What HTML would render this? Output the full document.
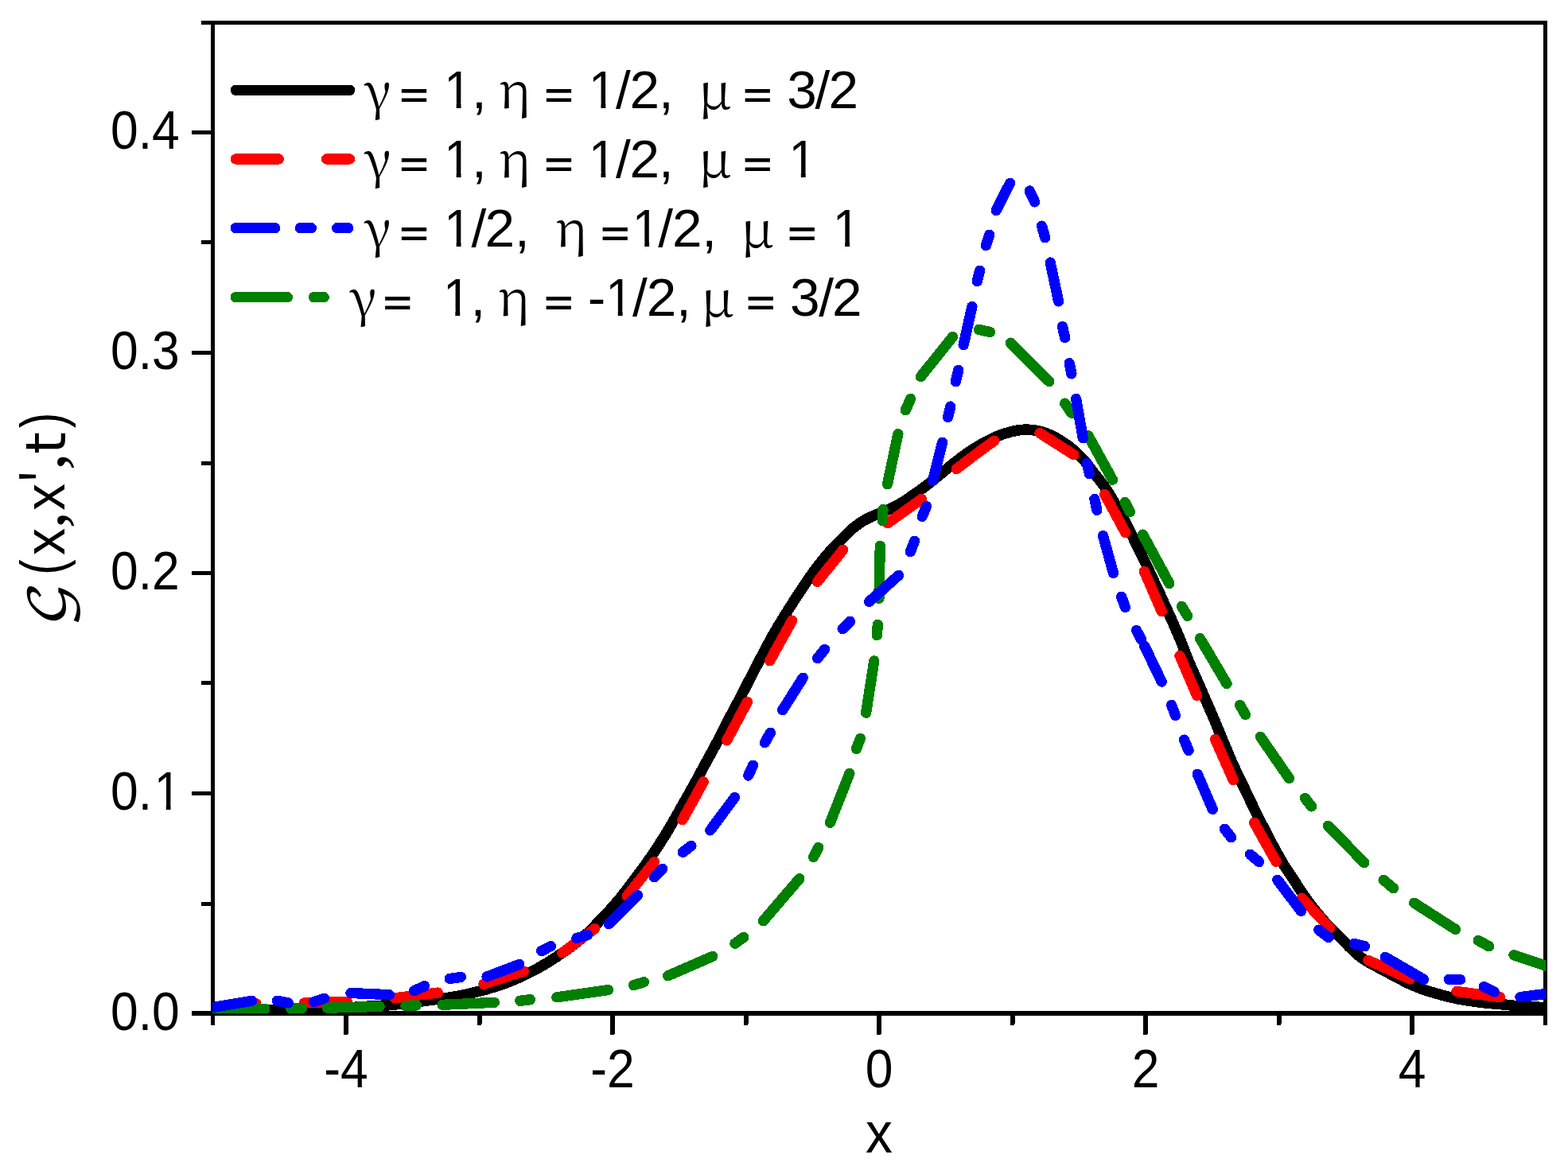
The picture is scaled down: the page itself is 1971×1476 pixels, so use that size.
<!DOCTYPE html>
<html lang="en"><head><meta charset="utf-8"><title>Green function G(x,x',t)</title>
<style>html,body{margin:0;padding:0;background:#fff}body{width:1971px;height:1476px;overflow:hidden}svg{display:block}text{font-family:"Liberation Sans",sans-serif;fill:#000}.gk{font-family:"Liberation Serif","DejaVu Serif",serif}.gd{font-family:"DejaVu Serif","Liberation Serif",serif}.gn{font-family:"Noto Serif CJK SC","Liberation Serif",serif}.sf{font-family:"Liberation Serif",serif}.dv{font-family:"DejaVu Sans","Liberation Sans",sans-serif}.b{font-weight:bold}.cal{font-family:"DejaVu Math TeX Gyre","DejaVu Serif","Liberation Serif",serif}</style></head><body>
<svg width="1971" height="1476" viewBox="0 0 1971 1476">
<rect width="1971" height="1476" fill="#fff"/>
<defs><clipPath id="plot"><rect x="267" y="28.5" width="1676" height="1245.5"/></clipPath></defs>
<g fill="#000" shape-rendering="crispEdges">
<rect x="253" y="26" width="1692" height="5" rx="1.5"/>
<rect x="265" y="26" width="5" height="1263" rx="1.5"/>
<rect x="1940" y="26" width="5" height="1263" rx="1.5"/>
<rect x="241" y="1271" width="1704" height="6" rx="1.5"/>
<rect x="432" y="1272" width="6" height="29" rx="2"/>
<rect x="599.5" y="1272" width="6" height="17" rx="2"/>
<rect x="767" y="1272" width="6" height="29" rx="2"/>
<rect x="934.5" y="1272" width="6" height="17" rx="2"/>
<rect x="1102" y="1272" width="6" height="29" rx="2"/>
<rect x="1269.5" y="1272" width="6" height="17" rx="2"/>
<rect x="1437" y="1272" width="6" height="29" rx="2"/>
<rect x="1604.5" y="1272" width="6" height="17" rx="2"/>
<rect x="1772" y="1272" width="6" height="29" rx="2"/>
<rect x="253" y="1134" width="14" height="5" rx="1.5"/>
<rect x="241" y="995" width="26" height="5" rx="1.5"/>
<rect x="253" y="856" width="14" height="5" rx="1.5"/>
<rect x="241" y="718" width="26" height="5" rx="1.5"/>
<rect x="253" y="580" width="14" height="5" rx="1.5"/>
<rect x="241" y="441" width="26" height="5" rx="1.5"/>
<rect x="253" y="302" width="14" height="5" rx="1.5"/>
<rect x="241" y="164" width="26" height="5" rx="1.5"/>
</g>
<g clip-path="url(#plot)" fill="none" stroke-linecap="round" stroke-linejoin="round" shape-rendering="crispEdges">
<path stroke="#000" stroke-width="13.6" d="M267.5 1271.5 L271.5 1271.4 L275.5 1271.4 L279.5 1271.3 L283.5 1271.2 L287.5 1271.1 L291.5 1271.1 L295.5 1271 L299.5 1270.9 L303.5 1270.9 L307.5 1270.8 L311.5 1270.7 L315.5 1270.6 L319.5 1270.6 L323.5 1270.5 L327.5 1270.4 L331.5 1270.4 L335.5 1270.3 L339.5 1270.2 L343.5 1270.1 L347.5 1270.1 L351.5 1270 L355.5 1269.9 L359.5 1269.8 L363.5 1269.7 L367.5 1269.6 L371.5 1269.5 L375.5 1269.4 L379.5 1269.3 L383.5 1269.2 L387.5 1269.1 L391.5 1269 L395.5 1268.9 L399.5 1268.7 L403.5 1268.6 L407.5 1268.4 L411.5 1268.2 L415.5 1268 L419.5 1267.8 L423.5 1267.6 L427.5 1267.4 L431.5 1267.2 L435.5 1266.9 L439.5 1266.7 L443.5 1266.5 L447.5 1266.2 L451.5 1266 L455.5 1265.7 L459.5 1265.4 L463.5 1265.2 L467.5 1264.9 L471.5 1264.7 L475.4 1264.5 L479.4 1264.3 L483.4 1264.1 L487.4 1263.8 L491.4 1263.4 L495.4 1263 L499.4 1262.6 L503.3 1262.1 L507.3 1261.7 L511.3 1261.2 L515.3 1260.7 L519.2 1260.3 L523.2 1259.8 L527.2 1259.3 L531.2 1258.7 L535.1 1258.2 L539.1 1257.7 L543.1 1257.2 L547 1256.6 L551 1256.1 L554.9 1255.5 L558.9 1255 L562.9 1254.4 L566.8 1253.8 L570.8 1253.1 L574.7 1252.5 L578.7 1251.7 L582.6 1251 L586.5 1250.1 L590.4 1249.2 L594.2 1248.2 L598.1 1247.2 L602 1246.3 L605.9 1245.3 L609.8 1244.2 L613.6 1243.2 L617.4 1242 L621.3 1240.9 L625.1 1239.7 L628.9 1238.4 L632.7 1237.1 L636.4 1235.7 L640.1 1234.2 L643.8 1232.7 L647.5 1231.2 L651.2 1229.6 L654.8 1228 L658.5 1226.3 L662.1 1224.6 L665.7 1222.8 L669.3 1221 L672.8 1219.1 L676.3 1217.2 L679.8 1215.2 L683.2 1213.2 L686.7 1211.2 L690.1 1209.1 L693.5 1206.9 L696.8 1204.8 L700.2 1202.6 L703.5 1200.3 L706.8 1198.1 L710.1 1195.8 L713.3 1193.5 L716.6 1191.1 L719.8 1188.7 L722.9 1186.3 L726.1 1183.8 L729.2 1181.3 L732.3 1178.8 L735.3 1176.2 L738.2 1173.4 L741.1 1170.7 L744 1167.8 L746.7 1165 L749.5 1162.1 L752.3 1159.2 L755 1156.3 L757.8 1153.4 L760.5 1150.5 L763.3 1147.6 L766 1144.7 L768.7 1141.7 L771.4 1138.7 L774 1135.7 L776.6 1132.7 L779.2 1129.6 L781.7 1126.5 L784.1 1123.3 L786.6 1120.1 L789 1116.9 L791.4 1113.7 L793.8 1110.5 L796.2 1107.3 L798.6 1104.1 L801 1100.9 L803.4 1097.8 L805.8 1094.6 L808.2 1091.4 L810.6 1088.1 L812.9 1084.9 L815.2 1081.6 L817.5 1078.3 L819.8 1075 L822 1071.7 L824.2 1068.4 L826.4 1065 L828.6 1061.7 L830.8 1058.3 L833 1055 L835.1 1051.6 L837.2 1048.2 L839.3 1044.7 L841.3 1041.3 L843.3 1037.9 L845.3 1034.4 L847.3 1030.9 L849.3 1027.4 L851.3 1024 L853.2 1020.5 L855.2 1017 L857.2 1013.5 L859.2 1010 L861.1 1006.6 L863.1 1003.1 L865.1 999.6 L867.1 996.1 L869 992.6 L870.9 989.1 L872.8 985.6 L874.8 982.1 L876.7 978.6 L878.6 975 L880.5 971.5 L882.4 968 L884.3 964.5 L886.2 961 L888.1 957.5 L890 953.9 L891.9 950.4 L893.9 946.9 L895.8 943.4 L897.7 939.9 L899.6 936.3 L901.5 932.8 L903.4 929.3 L905.2 925.8 L907.1 922.2 L908.9 918.7 L910.7 915.1 L912.5 911.5 L914.3 907.9 L916.1 904.4 L917.9 900.8 L919.8 897.2 L921.6 893.7 L923.5 890.2 L925.4 886.7 L927.3 883.1 L929.2 879.6 L931.1 876.1 L932.9 872.5 L934.7 868.9 L936.6 865.4 L938.4 861.8 L940.2 858.3 L942 854.7 L943.9 851.1 L945.7 847.6 L947.5 844 L949.4 840.5 L951.2 836.9 L953 833.4 L954.9 829.8 L956.7 826.3 L958.6 822.7 L960.5 819.2 L962.3 815.6 L964.2 812.1 L966.1 808.6 L968 805.1 L969.9 801.5 L971.9 798 L973.9 794.6 L975.9 791.1 L977.9 787.7 L980 784.3 L982.1 780.9 L984.2 777.4 L986.3 774 L988.4 770.6 L990.5 767.2 L992.7 763.9 L994.8 760.5 L997 757.1 L999.1 753.7 L1001.3 750.4 L1003.5 747 L1005.7 743.7 L1007.9 740.4 L1010.2 737.1 L1012.4 733.7 L1014.6 730.4 L1016.9 727.1 L1019.2 723.8 L1021.5 720.6 L1023.8 717.3 L1026.2 714.1 L1028.6 710.9 L1031.1 707.8 L1033.6 704.6 L1036.1 701.5 L1038.7 698.5 L1041.3 695.4 L1044 692.4 L1046.6 689.5 L1049.4 686.6 L1052.1 683.7 L1054.9 680.8 L1057.7 678 L1060.6 675.1 L1063.4 672.3 L1066.3 669.6 L1069.2 666.8 L1072.2 664.2 L1075.3 661.7 L1078.5 659.3 L1081.8 657 L1085.1 654.9 L1088.6 652.9 L1092.2 651.1 L1095.8 649.4 L1099.5 647.8 L1103.1 646.3 L1106.9 644.8 L1110.6 643.3 L1114.3 641.8 L1117.9 640.2 L1121.6 638.5 L1125.1 636.7 L1128.7 634.8 L1132.1 632.8 L1135.5 630.7 L1138.9 628.6 L1142.2 626.3 L1145.5 624 L1148.8 621.8 L1152.1 619.5 L1155.3 617.2 L1158.6 614.9 L1161.8 612.5 L1165 610 L1168.1 607.6 L1171.2 605 L1174.3 602.5 L1177.4 600 L1180.5 597.5 L1183.6 594.9 L1186.7 592.4 L1189.8 589.9 L1192.9 587.3 L1196 584.8 L1199.1 582.3 L1202.2 579.8 L1205.4 577.4 L1208.6 574.9 L1211.8 572.6 L1215.1 570.2 L1218.4 568 L1221.7 565.8 L1225.1 563.6 L1228.5 561.6 L1231.9 559.5 L1235.4 557.5 L1238.9 555.6 L1242.5 553.7 L1246 552 L1249.7 550.3 L1253.3 548.7 L1257 547.2 L1260.8 545.8 L1264.6 544.6 L1268.4 543.5 L1272.3 542.5 L1276.2 541.6 L1280.1 540.9 L1284 540.4 L1288 540.2 L1292 540.2 L1295.9 540.4 L1299.9 540.9 L1303.8 541.5 L1307.7 542.4 L1311.5 543.4 L1315.3 544.8 L1318.9 546.3 L1322.5 548 L1326.1 549.8 L1329.6 551.8 L1333 553.8 L1336.4 556 L1339.7 558.2 L1343 560.5 L1346.1 562.9 L1349.2 565.4 L1352.2 568 L1355.1 570.8 L1357.9 573.6 L1360.7 576.6 L1363.3 579.6 L1365.8 582.7 L1368.3 585.8 L1370.8 589 L1373.2 592.1 L1375.6 595.3 L1378.1 598.4 L1380.6 601.6 L1383.1 604.7 L1385.5 607.9 L1387.9 611.1 L1390.1 614.4 L1392.3 617.8 L1394.4 621.1 L1396.5 624.6 L1398.6 628 L1400.6 631.4 L1402.6 634.9 L1404.6 638.4 L1406.5 641.9 L1408.5 645.4 L1410.5 648.8 L1412.4 652.3 L1414.3 655.9 L1416.2 659.4 L1418 663 L1419.8 666.5 L1421.6 670.1 L1423.3 673.7 L1425 677.3 L1426.7 680.9 L1428.5 684.6 L1430.2 688.2 L1432 691.7 L1433.8 695.3 L1435.6 698.9 L1437.4 702.5 L1439.1 706.1 L1440.8 709.7 L1442.5 713.3 L1444.2 716.9 L1445.9 720.6 L1447.5 724.2 L1449.2 727.9 L1450.9 731.5 L1452.6 735.1 L1454.3 738.7 L1456 742.4 L1457.7 746 L1459.4 749.6 L1461 753.3 L1462.7 756.9 L1464.3 760.6 L1466 764.2 L1467.6 767.8 L1469.3 771.5 L1470.9 775.1 L1472.6 778.8 L1474.2 782.5 L1475.8 786.1 L1477.4 789.8 L1479 793.4 L1480.6 797.1 L1482.1 800.8 L1483.7 804.5 L1485.2 808.2 L1486.6 811.9 L1488.1 815.7 L1489.5 819.4 L1490.9 823.1 L1492.4 826.9 L1493.9 830.6 L1495.5 834.3 L1497.1 837.9 L1498.7 841.6 L1500.3 845.2 L1502 848.9 L1503.6 852.5 L1505.2 856.2 L1506.9 859.9 L1508.5 863.5 L1510 867.2 L1511.6 870.9 L1513.2 874.6 L1514.8 878.2 L1516.4 881.9 L1518 885.6 L1519.6 889.2 L1521.2 892.9 L1522.8 896.5 L1524.4 900.2 L1526 903.9 L1527.5 907.6 L1529 911.3 L1530.5 915 L1532.1 918.7 L1533.6 922.4 L1535.1 926.1 L1536.7 929.8 L1538.2 933.5 L1539.8 937.2 L1541.3 940.9 L1542.9 944.6 L1544.4 948.2 L1546 951.9 L1547.5 955.6 L1549.1 959.3 L1550.8 962.9 L1552.5 966.6 L1554.2 970.2 L1555.9 973.8 L1557.6 977.4 L1559.4 981 L1561.1 984.6 L1562.8 988.2 L1564.6 991.8 L1566.3 995.4 L1568.1 999 L1569.8 1002.6 L1571.5 1006.3 L1573.2 1009.9 L1574.9 1013.5 L1576.6 1017.1 L1578.3 1020.7 L1580.1 1024.3 L1581.9 1027.9 L1583.7 1031.4 L1585.6 1035 L1587.4 1038.5 L1589.3 1042.1 L1591.1 1045.6 L1593 1049.2 L1594.8 1052.7 L1596.7 1056.3 L1598.5 1059.8 L1600.4 1063.4 L1602.3 1066.9 L1604.2 1070.4 L1606.1 1073.9 L1608.1 1077.4 L1610.1 1080.9 L1612.1 1084.3 L1614.1 1087.8 L1616.2 1091.2 L1618.4 1094.5 L1620.6 1097.8 L1622.9 1101.2 L1625.1 1104.5 L1627.3 1107.8 L1629.5 1111.2 L1631.6 1114.6 L1633.8 1117.9 L1636 1121.2 L1638.3 1124.5 L1640.6 1127.8 L1642.9 1131.1 L1645.3 1134.3 L1647.6 1137.5 L1650.1 1140.7 L1652.6 1143.8 L1655.1 1146.9 L1657.6 1150 L1660.2 1153.1 L1662.8 1156.1 L1665.5 1159.1 L1668.2 1162 L1671 1164.9 L1673.8 1167.8 L1676.6 1170.7 L1679.4 1173.5 L1682.2 1176.4 L1685 1179.2 L1687.8 1182 L1690.6 1184.9 L1693.4 1187.7 L1696.2 1190.6 L1699.1 1193.4 L1702 1196.2 L1704.9 1198.8 L1708 1201.4 L1711.2 1203.8 L1714.4 1206.1 L1717.8 1208.2 L1721.2 1210.3 L1724.7 1212.2 L1728.2 1214.1 L1731.7 1216 L1735.3 1217.9 L1738.8 1219.8 L1742.3 1221.7 L1745.9 1223.6 L1749.4 1225.4 L1752.9 1227.3 L1756.5 1229.2 L1760 1231.1 L1763.5 1232.9 L1767.1 1234.8 L1770.7 1236.5 L1774.3 1238.2 L1778 1239.7 L1781.7 1241.2 L1785.4 1242.7 L1789.2 1244.1 L1793 1245.4 L1796.8 1246.6 L1800.6 1247.7 L1804.4 1248.9 L1808.3 1249.9 L1812.2 1251 L1816 1252 L1819.9 1253 L1823.8 1253.9 L1827.7 1254.8 L1831.6 1255.6 L1835.5 1256.4 L1839.5 1257.1 L1843.4 1257.7 L1847.4 1258.3 L1851.3 1258.9 L1855.3 1259.4 L1859.3 1259.9 L1863.3 1260.4 L1867.2 1260.9 L1871.2 1261.3 L1875.2 1261.7 L1879.2 1262 L1883.2 1262.3 L1887.2 1262.7 L1891.1 1263.1 L1895.1 1263.5 L1899.1 1263.9 L1903.1 1264.3 L1907 1264.7 L1911 1265 L1915 1265.2 L1919 1265.5 L1923 1265.7 L1927 1265.9 L1931 1266.1 L1935 1266.3 L1939 1266.5 L1943 1266.7 L1943 1266.7"/>
<path stroke="#f00" stroke-width="13.3" d="M267.5 1267 L321.6 1261.5M382.4 1260.9 L436.4 1259.3M496.2 1254.8 L550.2 1248.1M608 1237.1 L658.3 1221.1M706.9 1197.9 L747.5 1167.7M788.2 1126.4 L822.5 1083.5M857.9 1030.7 L884.3 982.9M913.6 930.9 L939.4 882.5M967.7 830.7 L995.7 780.1M1027.5 731.3 L1059.6 691.4M1115.9 657.7 L1158.4 627.4M1202.3 589.6 L1226 571.5 L1249.6 554.2M1307 544.5 L1349.8 571.7M1388.5 621.3 L1414.8 669.7M1438.3 718.3 L1460.2 768.7M1483 824.4 L1504.5 874.4M1527.5 929.5 L1550.2 980.5M1576.5 1034.2 L1604 1083.2M1636.5 1129.1 L1671.7 1166.9M1719.8 1207.4 L1772.3 1230.9M1830.9 1246.4 L1885.7 1253.7"/>
<path stroke="#008000" stroke-width="13.3" d="M267.5 1269.3 L332.8 1268.4M365.5 1267.6 L379.5 1267.6M411.4 1267.2 L477.1 1265.4M509.8 1264.6 L523.4 1263.9M556.1 1263.3 L621.4 1260.3M653.7 1258.3 L666.4 1256.7M699.8 1253.8 L764.6 1244.5M796.5 1238.6 L809.5 1234.7M839.6 1226.8 L895.7 1202.4M923.9 1186.3 L934.7 1178.4M959.5 1157.7 L1004.8 1104.8M1022.5 1077.4 L1028.8 1065.6M1043.5 1034.3 L1067.9 972.4M1076.4 941.5 L1081.5 928.5M1088.6 896.3 L1098.8 830.9M1102.4 798.6 L1103.3 785.4M1104.9 752.4 L1106.3 686.3M1109.2 654.6 L1110 640.6M1115.5 608.7 L1128.9 545.5M1138.3 515.8 L1144.6 501.4M1157.4 473.5 L1197.5 423.6M1230.4 414.4 L1244.6 417.5M1270.4 431.1 L1318.8 479.5M1338.7 507.1 L1347.1 519.5M1367.8 547.5 L1398.5 603.2M1414.1 631.5 L1420.4 643.5M1436.5 672.1 L1469.8 733.5M1485.4 762.4 L1492.7 774.4M1508.4 802.6 L1542.1 859.6M1558.6 886.4 L1565.5 898.4M1584.4 926.4 L1620.4 978.5M1640.4 1003.5 L1648.7 1013.9M1669.4 1038.3 L1714.8 1084.6M1739.1 1106.3 L1751.5 1116.7M1777.6 1135.2 L1829.6 1168.5M1858.2 1182.3 L1871.7 1189.8M1903 1200.7 L1943.5 1214.3"/>
<path stroke="#00f" stroke-width="13.3" d="M267.5 1266.6 L316.5 1258.3M348.4 1258.3 L362.2 1260.9M394.6 1259.5 L407.6 1255.2M440.9 1248.5 L489.3 1250.7M520.6 1245.7 L533.6 1239.6M565.3 1230.4 L579.3 1228.4M612 1228 L652.8 1212.4M680.7 1195.5 L692.4 1189.6M724.8 1179.6 L738.6 1175.4M765.4 1161.7 L801.6 1125.6M822.3 1102.8 L832.7 1092.4M858.3 1071.5 L868.9 1063.2M892.8 1043.9 L923.5 1002.6M940.7 975 L946.5 962.2M961.4 933.7 L968.3 921.3M983.7 892.7 L1009.3 852.2M1027.6 827.6 L1036.6 816.5M1059.1 790.7 L1068.5 781.3M1092.5 756.5 L1129.5 723.4M1144.3 693.7 L1149.6 680.2M1159.2 649.3 L1164.5 636.5M1172.4 604.6 L1184.6 556.3M1191.5 524.6 L1194.8 511.1M1201.3 479.8 L1204.7 465.4M1211.1 433.7 L1221.9 385.4M1228.2 353.7 L1231.6 340.2M1239.3 308.7 L1243.6 295.3M1252.2 264.6 L1269.6 230.3M1294.2 240 L1300.7 253.9M1309.5 284.1 L1313.7 298.8M1320.2 330.1 L1330.6 378.9M1335.5 410.4 L1338.7 424.6M1344.2 456.5 L1346.9 469.9M1352.6 501.4 L1361.3 550.8M1366.4 582.3 L1369.4 595.7M1375.9 627.4 L1378.8 641.4M1386.5 673.5 L1399.5 720.5M1409.6 750.2 L1414.5 763.6M1428.5 792.5 L1434.8 804.3M1438.7 812.2 L1460.2 857.1M1472.6 886.4 L1477.5 899.4M1488.5 930.1 L1494.1 943.5M1505.2 973.2 L1524.3 1017.5M1539.3 1042.3 L1547.7 1052.7M1571.5 1074.2 L1582.6 1083.6M1605.8 1106.3 L1635.5 1145.6M1657.6 1169.1 L1670.2 1178.5M1702.4 1186.4 L1715.4 1189.7M1741.2 1203.3 L1789.6 1231.3M1821.3 1231.3 L1835.6 1231.6M1865.3 1240.5 L1878.3 1246.9M1911 1253.6 L1943.5 1249.4"/>
</g>
<g fill="none" stroke-linecap="round" shape-rendering="crispEdges" stroke-width="13.4">
<path stroke="#000" d="M296.3 113.3H439.5"/>
<path stroke="#f00" d="M296.3 199.9H350.2M410.5 199.9H439.5"/>
<path stroke="#00f" d="M296.3 286.7H345.6M377.5 286.7H391.3M423.7 286.7H437.7"/>
<path stroke="#008000" d="M296.3 373.6H361.3M394.5 373.6H407.2"/>
</g>
<defs><clipPath id="one"><path d="M0 -60H40V-5.8H21.95V3H15.9V-5.8H0Z"/></clipPath></defs>
<g>
<text class="gn" transform="translate(457.60 137.88) scale(1.0086 1.0057)" font-size="64">γ</text>
<text class="b" transform="translate(502.21 135.34) scale(0.9750 0.6750)" font-size="64">=</text>
<text transform="translate(558.25 136.10) scale(0.9680 1.0490)" font-size="64" clip-path="url(#one)">1</text>
<text transform="translate(592.91 136.10)" font-size="67.5">,</text>
<text class="gn" transform="translate(626.81 136.13) scale(1.0523 0.9718)" font-size="64">η</text>
<text class="b" transform="translate(684.21 135.34) scale(0.9750 0.6750)" font-size="64">=</text>
<text transform="translate(740.05 136.10) scale(0.9680 1.0490)" font-size="64" clip-path="url(#one)">1</text>
<text transform="translate(774.10 136.10)" font-size="67.5" x="0.00 17.41">/2</text>
<text transform="translate(827.91 136.10)" font-size="67.5">,</text>
<text class="gn" transform="translate(877.44 137.06) scale(1.0458 0.9843)" font-size="64">μ</text>
<text class="b" transform="translate(934.01 135.34) scale(0.9750 0.6750)" font-size="64">=</text>
<text transform="translate(989.33 136.10)" font-size="67.5" x="0.00 35.17 52.08">3/2</text>
</g>
<g>
<text class="gn" transform="translate(457.60 224.28) scale(1.0086 1.0057)" font-size="64">γ</text>
<text class="b" transform="translate(502.21 221.74) scale(0.9750 0.6750)" font-size="64">=</text>
<text transform="translate(558.25 222.50) scale(0.9680 1.0490)" font-size="64" clip-path="url(#one)">1</text>
<text transform="translate(592.91 222.50)" font-size="67.5">,</text>
<text class="gn" transform="translate(626.81 222.53) scale(1.0523 0.9718)" font-size="64">η</text>
<text class="b" transform="translate(684.21 221.74) scale(0.9750 0.6750)" font-size="64">=</text>
<text transform="translate(740.05 222.50) scale(0.9680 1.0490)" font-size="64" clip-path="url(#one)">1</text>
<text transform="translate(774.10 222.50)" font-size="67.5" x="0.00 17.41">/2</text>
<text transform="translate(827.91 222.50)" font-size="67.5">,</text>
<text class="gn" transform="translate(877.44 223.46) scale(1.0458 0.9843)" font-size="64">μ</text>
<text class="b" transform="translate(934.01 221.74) scale(0.9750 0.6750)" font-size="64">=</text>
<text transform="translate(991.45 222.50) scale(0.9680 1.0490)" font-size="64" clip-path="url(#one)">1</text>
</g>
<g>
<text class="gn" transform="translate(457.60 311.38) scale(1.0086 1.0057)" font-size="64">γ</text>
<text class="b" transform="translate(502.21 308.84) scale(0.9750 0.6750)" font-size="64">=</text>
<text transform="translate(558.25 309.60) scale(0.9680 1.0490)" font-size="64" clip-path="url(#one)">1</text>
<text transform="translate(592.50 309.60)" font-size="67.5" x="0.00 16.91">/2</text>
<text transform="translate(646.91 309.60)" font-size="67.5">,</text>
<text class="gn" transform="translate(697.71 309.63) scale(1.0523 0.9718)" font-size="64">η</text>
<text class="b" transform="translate(755.01 308.84) scale(0.9750 0.6750)" font-size="64">=</text>
<text transform="translate(794.85 309.60) scale(0.9680 1.0490)" font-size="64" clip-path="url(#one)">1</text>
<text transform="translate(827.30 309.60)" font-size="67.5" x="0.00 17.71">/2</text>
<text transform="translate(882.21 309.60)" font-size="67.5">,</text>
<text class="gn" transform="translate(930.64 310.56) scale(1.0458 0.9843)" font-size="64">μ</text>
<text class="b" transform="translate(989.91 308.84) scale(0.9750 0.6750)" font-size="64">=</text>
<text transform="translate(1046.75 309.60) scale(0.9680 1.0490)" font-size="64" clip-path="url(#one)">1</text>
</g>
<g>
<text class="gn" transform="translate(439.30 398.48) scale(1.0086 1.0057)" font-size="64">γ</text>
<text class="b" transform="translate(481.61 395.94) scale(0.9750 0.6750)" font-size="64">=</text>
<text transform="translate(556.95 396.70) scale(0.9680 1.0490)" font-size="64" clip-path="url(#one)">1</text>
<text transform="translate(591.61 396.70)" font-size="67.5">,</text>
<text class="gn" transform="translate(625.41 396.73) scale(1.0523 0.9718)" font-size="64">η</text>
<text class="b" transform="translate(684.01 395.94) scale(0.9750 0.6750)" font-size="64">=</text>
<text transform="translate(738.80 396.70)" font-size="67.5" x="0.00">-</text>
<text transform="translate(761.35 396.70) scale(0.9680 1.0490)" font-size="64" clip-path="url(#one)">1</text>
<text transform="translate(795.10 396.70)" font-size="67.5" x="0.00 17.71">/2</text>
<text transform="translate(850.01 396.70)" font-size="67.5">,</text>
<text class="gn" transform="translate(880.64 397.66) scale(1.0458 0.9843)" font-size="64">μ</text>
<text class="b" transform="translate(937.91 395.94) scale(0.9750 0.6750)" font-size="64">=</text>
<text transform="translate(992.93 396.70)" font-size="67.5" x="0.00 36.37 52.98">3/2</text>
</g>
<text transform="translate(435.00 1366.60) scale(0.9750 1.0750)" font-size="64" text-anchor="middle">-4</text>
<text transform="translate(770.00 1366.60) scale(0.9750 1.0750)" font-size="64" text-anchor="middle">-2</text>
<text transform="translate(1105.00 1366.60) scale(0.9750 1.0750)" font-size="64" text-anchor="middle">0</text>
<text transform="translate(1440.00 1366.60) scale(0.9750 1.0750)" font-size="64" text-anchor="middle">2</text>
<text transform="translate(1775.00 1366.60) scale(0.9750 1.0750)" font-size="64" text-anchor="middle">4</text>
<text transform="translate(225.80 1294.60) scale(0.9750 1.0750)" font-size="64" text-anchor="end">0.0</text>
<text transform="translate(191.10 1017.60) scale(0.9750 1.0750)" font-size="64" text-anchor="end">0.</text>
<text transform="translate(193.69 1017.60) scale(0.9500 1.0650)" font-size="64" clip-path="url(#one)">1</text>
<text transform="translate(225.80 740.60) scale(0.9750 1.0750)" font-size="64" text-anchor="end">0.2</text>
<text transform="translate(225.80 463.60) scale(0.9750 1.0750)" font-size="64" text-anchor="end">0.3</text>
<text transform="translate(225.80 186.60) scale(0.9750 1.0750)" font-size="64" text-anchor="end">0.4</text>
<text transform="translate(1088.04 1449.10) scale(0.9967 1.0661)" font-size="68">x</text>
<g>
<text class="cal" transform="translate(84.36 788.17) rotate(-90) scale(1.1491 1.0047)" font-size="66">𝒢</text>
<text transform="translate(79.31 722.70) rotate(-90) scale(0.8298 1.0964)" font-size="70">(</text>
<text transform="translate(81.10 698.07) rotate(-90) scale(0.9742 1.0383)" font-size="70">x</text>
<text class="sf" transform="translate(80.54 664.42) rotate(-90) scale(1.2470 1.1847)" font-size="70">,</text>
<text transform="translate(81.10 641.86) rotate(-90) scale(0.9653 1.0383)" font-size="70">x</text>
<text transform="translate(91.16 605.45) rotate(-90) scale(0.9699 1.3737)" font-size="70">&#39;</text>
<text class="sf" transform="translate(80.54 591.53) rotate(-90) scale(1.2854 1.1847)" font-size="70">,</text>
<text class="dv" transform="translate(82.20 571.02) rotate(-90) scale(1.0213 1.0030)" font-size="70">t</text>
<text transform="translate(79.31 537.94) rotate(-90) scale(0.8298 1.0964)" font-size="70">)</text>
</g>
</svg></body></html>
